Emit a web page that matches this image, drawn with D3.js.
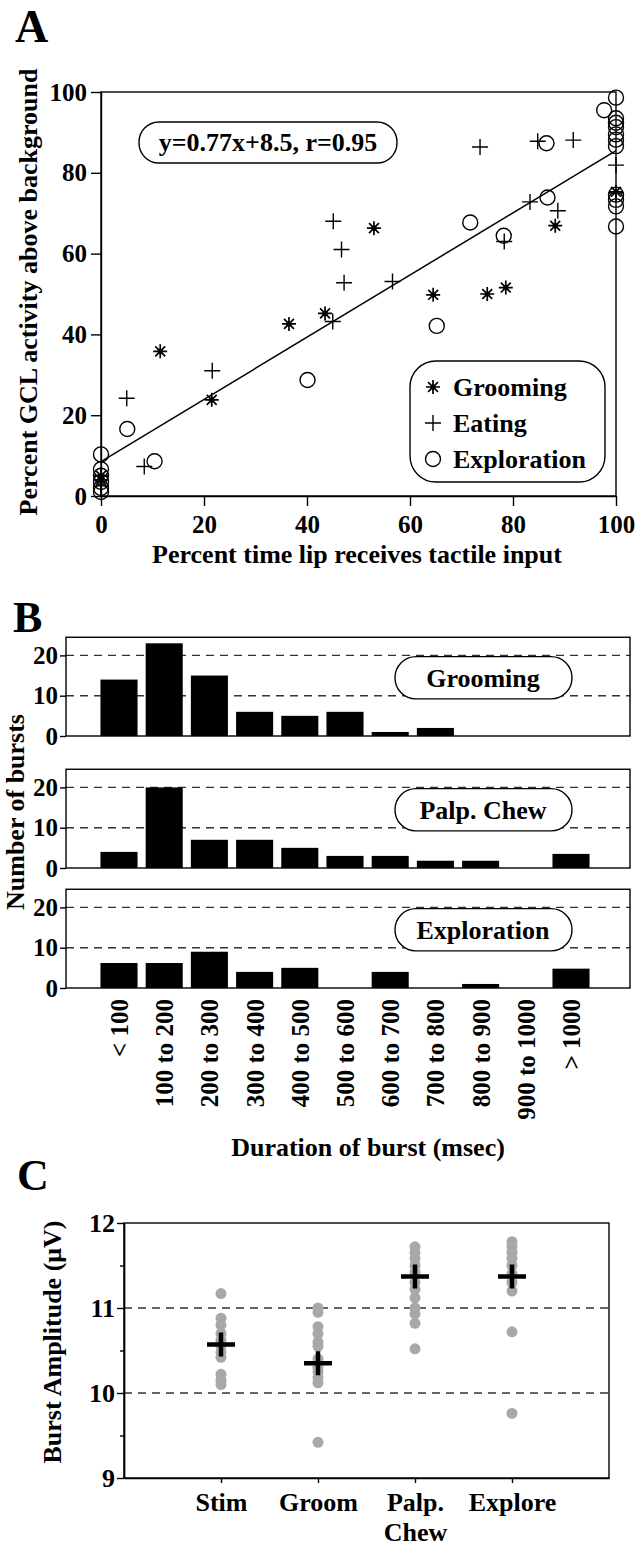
<!DOCTYPE html>
<html>
<head>
<meta charset="utf-8">
<script src="https://cdnjs.cloudflare.com/ajax/libs/d3/7.8.5/d3.min.js"></script>
<style>
  body { margin: 0; background: #fff; }
  text { font-family: "Liberation Serif", "Times New Roman", serif; font-weight: bold; fill: #000; }
</style>
</head>
<body>
<svg id="fig" width="637" height="1546"></svg>
<script>
// ---- panel A : scatter ----
const groomingPts = [[0,5],[0,4],[11.5,35.8],[21.5,23.8],[36.5,42.6],[43.5,45.2],[53,66.3],[64.5,49.8],[75,50],[78.6,51.6],[88.2,66.9],[100,75.3]];
const eatingPts = [[0,2.5],[5,24.2],[8.4,7.3],[21.6,31],[45,43.2],[45.1,68],[46.7,61],[47.2,52.8],[56.6,53.1],[73.6,86.4],[78.3,63],[83.3,72.8],[84.8,87.8],[88.7,70.6],[91.7,88.1],[100,81.9],[100,75]];
const explorePts = [[0,10.3],[0,6.6],[0,5],[0,3.5],[0,2],[0,1],[5.1,16.6],[10.4,8.6],[40.1,28.7],[65.2,42.1],[71.7,67.7],[78.2,64.4],[86.7,73.9],[86.5,87.3],[97.7,95.5],[100,98.6],[100,93.5],[100,92.4],[100,91.3],[100,89.5],[100,88.2],[100,86.6],[100,74.6],[100,73.3],[100,71.7],[100,66.7]];
const fitSlope = 0.77, fitIntercept = 8.5;
const ticksA = [0, 20, 40, 60, 80, 100];
const legendNames = ["Grooming", "Eating", "Exploration"];

// ---- panel B : histograms ----
const durationBins = ["< 100","100 to 200","200 to 300","300 to 400","400 to 500","500 to 600","600 to 700","700 to 800","800 to 900","900 to 1000","> 1000"];
const groomingCounts = [14, 23, 15, 6, 5, 6, 1, 2, 0, 0, 0];
const palpChewCounts = [4, 20, 7, 7, 5, 3, 3, 1.8, 1.8, 0, 3.5];
const explorationCounts = [6.2, 6.2, 9, 4, 5, 0, 4, 0, 1, 0, 4.8];
const countTicks = [0, 10, 20];

// ---- panel C : burst amplitude ----
const behaviours = ["Stim", "Groom", "Palp. Chew", "Explore"];
const stimAmp = [11.17, 10.88, 10.8, 10.7, 10.62, 10.55, 10.48, 10.42, 10.22, 10.15, 10.1];
const groomAmp = [11.0, 10.95, 10.78, 10.7, 10.6, 10.55, 10.4, 10.3, 10.25, 10.18, 10.12, 9.42];
const palpAmp = [11.72, 11.65, 11.58, 11.5, 11.42, 11.3, 11.22, 11.12, 11.0, 10.93, 10.82, 10.52];
const exploreAmp = [11.78, 11.72, 11.65, 11.58, 11.5, 11.4, 11.3, 11.2, 10.72, 9.76];
const meanAmp = [10.57, 10.35, 11.37, 11.37];
const ampTicks = [9, 10, 11, 12];

const svg = d3.select("#fig");

function styleAxis(g, size) {
  g.attr("font-family", null).attr("font-size", null);
  g.selectAll("text").style("font-size", size + "px");
  g.selectAll("line,path").attr("stroke", "#000").attr("stroke-width", 1.4);
}

// ================= A =================
const xA = d3.scaleLinear().domain([0, 100]).range([101, 616]);
const yA = d3.scaleLinear().domain([0, 100]).range([496, 92]);

svg.append("text").attr("x", 15).attr("y", 42).style("font-size", "46px").text("A");

svg.append("rect")
  .attr("x", xA(0)).attr("y", yA(100))
  .attr("width", xA(100) - xA(0)).attr("height", yA(0) - yA(100))
  .attr("fill", "none").attr("stroke", "#000").attr("stroke-width", 1.4);

svg.append("g").attr("transform", `translate(${xA(0)},0)`)
  .call(d3.axisLeft(yA).tickValues(ticksA).tickSize(10).tickPadding(4).tickSizeOuter(0))
  .call(g => styleAxis(g, 25));
svg.append("g").attr("transform", `translate(0,${yA(0)})`)
  .call(d3.axisBottom(xA).tickValues(ticksA).tickSize(10).tickPadding(9).tickSizeOuter(0))
  .call(g => styleAxis(g, 25));

// fit line
svg.append("line")
  .attr("x1", xA(0)).attr("y1", yA(fitIntercept))
  .attr("x2", xA(100)).attr("y2", yA(fitSlope * 100 + fitIntercept))
  .attr("stroke", "#000").attr("stroke-width", 1.5);

function asterisk(r) {
  let p = "";
  for (let k = 0; k < 4; k++) {
    const a = k * Math.PI / 4, c = Math.cos(a) * r, s = Math.sin(a) * r;
    p += `M${-c},${-s}L${c},${s}`;
  }
  return p;
}
const plusPath = r => `M${-r},0H${r}M0,${-r}V${r}`;

function drawGroom(sel, pts, x, y) {
  const g = sel.selectAll(null).data(pts).enter().append("g")
    .attr("transform", d => `translate(${x(d)},${y(d)})`);
  g.append("path").attr("d", asterisk(7)).attr("stroke", "#000").attr("stroke-width", 1.7);
  g.append("circle").attr("r", 2.6).attr("fill", "#000");
}
function drawEat(sel, pts, x, y) {
  sel.selectAll(null).data(pts).enter().append("path")
    .attr("transform", d => `translate(${x(d)},${y(d)})`)
    .attr("d", plusPath(8)).attr("stroke", "#000").attr("stroke-width", 1.4).attr("fill", "none");
}
function drawExplore(sel, pts, x, y) {
  sel.selectAll(null).data(pts).enter().append("circle")
    .attr("cx", x).attr("cy", y).attr("r", 7.5)
    .attr("fill", "none").attr("stroke", "#000").attr("stroke-width", 1.4);
}
const ptsA = svg.append("g");
drawExplore(ptsA, explorePts, d => xA(d[0]), d => yA(d[1]));
drawEat(ptsA, eatingPts, d => xA(d[0]), d => yA(d[1]));
drawGroom(ptsA, groomingPts, d => xA(d[0]), d => yA(d[1]));

// equation box
svg.append("rect").attr("x", 139).attr("y", 122).attr("width", 258).attr("height", 41).attr("rx", 20)
  .attr("fill", "#fff").attr("stroke", "#000").attr("stroke-width", 1.4);
svg.append("text").attr("x", 268).attr("y", 151).attr("text-anchor", "middle").style("font-size", "26px")
  .text(`y=${fitSlope}x+${fitIntercept}, r=0.95`);

// legend
svg.append("rect").attr("x", 410).attr("y", 361).attr("width", 195).attr("height", 121).attr("rx", 26)
  .attr("fill", "#fff").attr("stroke", "#000").attr("stroke-width", 1.4);
const legRow = d3.scalePoint().domain(legendNames).range([387, 459]);
const leg = svg.append("g");
drawGroom(leg, [legendNames[0]], () => 433, d => legRow(d));
drawEat(leg, [legendNames[1]], () => 433, d => legRow(d));
drawExplore(leg, [legendNames[2]], () => 433, d => legRow(d));
leg.selectAll(null).data(legendNames).enter().append("text")
  .attr("x", 453).attr("y", d => legRow(d) + 9).style("font-size", "26px").text(d => d);

svg.append("text").attr("transform", "translate(37,292) rotate(-90)").attr("text-anchor", "middle")
  .style("font-size", "26px").text("Percent GCL activity above background");
svg.append("text").attr("x", 357).attr("y", 563).attr("text-anchor", "middle")
  .style("font-size", "26px").text("Percent time lip receives tactile input");

// ================= B =================
svg.append("text").attr("x", 13).attr("y", 632).style("font-size", "44px").text("B");

const xB = d3.scaleBand().domain(durationBins).range([96.4, 593.6]).paddingInner(0.18).paddingOuter(0.09);
const boxLeft = 66, boxRight = 630, topCount = 24.5;

function drawHist(counts, zeroY, name) {
  const y = d3.scaleLinear().domain([0, topCount]).range([zeroY, zeroY - topCount * 4.03]);
  const g = svg.append("g");
  g.selectAll(null).data(countTicks.filter(t => t > 0)).enter().append("line")
    .attr("x1", boxLeft).attr("x2", boxRight).attr("y1", y).attr("y2", y)
    .attr("stroke", "#333").attr("stroke-width", 1.4).attr("stroke-dasharray", "8,6");
  g.selectAll(null).data(counts).enter().append("rect")
    .attr("x", (d, i) => xB(durationBins[i])).attr("width", xB.bandwidth())
    .attr("y", d => y(d)).attr("height", d => y(0) - y(d)).attr("fill", "#000");
  g.append("rect").attr("x", boxLeft).attr("y", y(topCount))
    .attr("width", boxRight - boxLeft).attr("height", y(0) - y(topCount))
    .attr("fill", "none").attr("stroke", "#000").attr("stroke-width", 1.4);
  g.append("g").attr("transform", `translate(${boxLeft},0)`)
    .call(d3.axisLeft(y).tickValues(countTicks).tickSize(6).tickPadding(2).tickSizeOuter(0))
    .call(a => styleAxis(a, 25))
    .call(a => a.select(".domain").remove());
  g.append("rect").attr("x", 395).attr("y", y(19.7)).attr("width", 177).attr("height", y(9.2) - y(19.7))
    .attr("rx", 21).attr("fill", "#fff").attr("stroke", "#000").attr("stroke-width", 1.4);
  g.append("text").attr("x", 483).attr("y", y(14.45) + 9).attr("text-anchor", "middle")
    .style("font-size", "26px").text(name);
}
drawHist(groomingCounts, 736, "Grooming");
drawHist(palpChewCounts, 868, "Palp. Chew");
drawHist(explorationCounts, 988, "Exploration");

svg.append("g").selectAll(null).data(durationBins).enter().append("text")
  .attr("transform", d => `translate(${xB(d) + xB.bandwidth() / 2 + 9},999) rotate(-90)`)
  .attr("text-anchor", "end").style("font-size", "25px").text(d => d);

svg.append("text").attr("transform", "translate(24,812) rotate(-90)").attr("text-anchor", "middle")
  .style("font-size", "26px").text("Number of  bursts");
svg.append("text").attr("x", 368).attr("y", 1156).attr("text-anchor", "middle")
  .style("font-size", "26px").text("Duration of burst (msec)");

// ================= C =================
svg.append("text").attr("x", 17).attr("y", 1190).style("font-size", "44px").text("C");

const xC = d3.scalePoint().domain(behaviours).range([124, 609]).padding(1);
const yC = d3.scaleLinear().domain([9, 12]).range([1478, 1223]);

svg.append("g").selectAll(null).data([10, 11]).enter().append("line")
  .attr("x1", xC.range()[0]).attr("x2", xC.range()[1]).attr("y1", yC).attr("y2", yC)
  .attr("stroke", "#333").attr("stroke-width", 1.4).attr("stroke-dasharray", "8,6");
svg.append("rect").attr("x", 124).attr("y", yC(12)).attr("width", 485).attr("height", yC(9) - yC(12))
  .attr("fill", "none").attr("stroke", "#000").attr("stroke-width", 1.4);

svg.append("g").attr("transform", "translate(124,0)")
  .call(d3.axisLeft(yC).tickValues(ampTicks).tickFormat(d3.format("d")).tickSize(7).tickPadding(2).tickSizeOuter(0))
  .call(g => styleAxis(g, 26));
svg.append("g").attr("transform", "translate(124,0)")
  .call(d3.axisLeft(yC).tickValues([9.5, 10.5, 11.5]).tickSize(4).tickFormat("").tickSizeOuter(0))
  .call(g => styleAxis(g, 26));
svg.append("g").attr("transform", `translate(0,${yC(9)})`)
  .call(d3.axisBottom(xC).tickSize(5).tickPadding(10).tickSizeOuter(0))
  .call(g => styleAxis(g, 26))
  .call(g => g.selectAll("text").each(function (d) {
    const t = d3.select(this), words = d.split(" ");
    t.text(null);
    words.forEach((w, i) => t.append("tspan").attr("x", 0).attr("dy", i ? "1.15em" : "0.71em").text(w));
  }));

const ampSets = [stimAmp, groomAmp, palpAmp, exploreAmp];
ampSets.forEach((vals, i) => {
  svg.append("g").selectAll(null).data(vals).enter().append("circle")
    .attr("cx", xC(behaviours[i])).attr("cy", d => yC(d)).attr("r", 5.5)
    .attr("fill", "#a8a8a8");
});
svg.append("g").selectAll(null).data(meanAmp).enter().append("path")
  .attr("transform", (d, i) => `translate(${xC(behaviours[i])},${yC(d)})`)
  .attr("d", "M-14,0H14M0,-12V12").attr("stroke", "#000").attr("stroke-width", 4.5);

svg.append("text").attr("transform", "translate(61,1342) rotate(-90)").attr("text-anchor", "middle")
  .style("font-size", "26px").text("Burst Amplitude (\u03bcV)");
</script>
</body>
</html>
